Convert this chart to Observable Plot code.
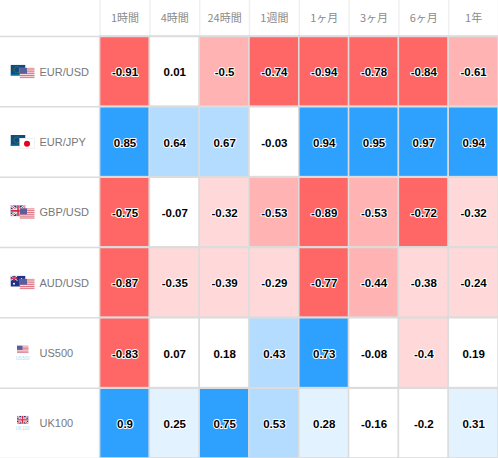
<!DOCTYPE html>
<html>
<head>
<meta charset="utf-8">
<script src="https://cdn.jsdelivr.net/npm/d3@7"></script>
<script src="https://cdn.jsdelivr.net/npm/@observablehq/plot@0.6"></script>
<style>html,body{margin:0;padding:0;background:#fff}svg{display:block}</style>
</head>
<body>
<div id="chart"></div>
<script>
const periods = ["1時間","4時間","24時間","1週間","1ヶ月","3ヶ月","6ヶ月","1年"];
const symbols = ["EUR/USD","EUR/JPY","GBP/USD","AUD/USD","US500","UK100"];
const eurusd = [-0.91,0.01,-0.5,-0.74,-0.94,-0.78,-0.84,-0.61];
const eurjpy = [0.85,0.64,0.67,-0.03,0.94,0.95,0.97,0.94];
const gbpusd = [-0.75,-0.07,-0.32,-0.53,-0.89,-0.53,-0.72,-0.32];
const audusd = [-0.87,-0.35,-0.39,-0.29,-0.77,-0.44,-0.38,-0.24];
const us500 = [-0.83,0.07,0.18,0.43,0.73,-0.08,-0.4,0.19];
const uk100 = [0.9,0.25,0.75,0.53,0.28,-0.16,-0.2,0.31];
const series = [eurusd,eurjpy,gbpusd,audusd,us500,uk100];
const thresholds = [-0.7,-0.4,-0.2,0.2,0.4,0.7];
const palette = ["#ff6666","#ffb3b3","#ffd9d9","#ffffff","#e3f2ff","#b3dcff","#2ea1ff"];
const table = symbols.flatMap((s,i)=>periods.map((p,j)=>({symbol:s,period:p,value:series[i][j]})));

const svgUri = (w,h,body)=>"data:image/svg+xml,"+encodeURIComponent(`<svg xmlns="http://www.w3.org/2000/svg" width="${w}" height="${h}" viewBox="0 0 ${w} ${h}" preserveAspectRatio="none">${body}</svg>`);
const eu = svgUri(15,11,`<rect width="15" height="11" fill="#0f4c81"/><rect y="9.6" width="15" height="1.4" fill="#0b7a9c"/><circle cx="6.5" cy="5" r="3" fill="none" stroke="#7f9a3a" stroke-width=".8" stroke-dasharray="1 1"/>`);
const usStripes = [0,2,4,6,8,10].map(y=>`<rect y="${y*0.85}" width="20" height="0.85" fill="#d96a78"/>`).join("");
const us = svgUri(15,11,`<rect width="15" height="11" fill="#f7e6e8"/><g transform="scale(1,1.08)">${usStripes}</g><rect width="7.5" height="6" fill="#5a5f9c"/>`);
const jp = svgUri(15,11,`<rect width="15" height="11" fill="#fff" stroke="#e4e4e4"/><circle cx="7.5" cy="5.8" r="3" fill="#e8001c"/>`);
const uk = svgUri(15,10,`<rect width="15" height="10" fill="#28357a"/><path d="M0 0L15 10M15 0L0 10" stroke="#fff" stroke-width="2.2"/><path d="M0 0L15 10M15 0L0 10" stroke="#cf2a3e" stroke-width=".8"/><path d="M7.5 0V10M0 5H15" stroke="#fff" stroke-width="3"/><path d="M7.5 0V10M0 5H15" stroke="#cf2a3e" stroke-width="1.6"/>`);
const au = svgUri(15,11,`<rect width="15" height="11" fill="#1d3288"/><path d="M0 0L7 5M7 0L0 5" stroke="#fff" stroke-width="1"/><path d="M3.5 0V5M0 2.5H7" stroke="#e0334a" stroke-width="1.2"/><circle cx="3.5" cy="8" r="1" fill="#fff"/><circle cx="11" cy="3" r=".6" fill="#fff"/><circle cx="12.5" cy="6" r=".6" fill="#fff"/>`);

const backFlags = [["EUR/USD",eu],["EUR/JPY",eu],["GBP/USD",uk],["AUD/USD",au]];
const frontFlags = [["EUR/USD",us],["EUR/JPY",jp],["GBP/USD",us],["AUD/USD",us]];
const indexFlags = [["US500",us],["UK100",uk]];

const xDomain = ["","  ",...periods];
const plot = Plot.plot({
  width:498,height:458,
  marginTop:0,marginRight:0,marginBottom:0,marginLeft:0,
  style:{background:"#fff",fontFamily:"'Liberation Sans',Arial,sans-serif"},
  x:{type:"band",domain:xDomain,range:[0,498],padding:0,round:false,axis:null},
  y:{type:"band",domain:symbols,range:[36,458],padding:0,round:false,axis:null},
  color:{type:"threshold",domain:thresholds,range:palette},
  marks:[
    Plot.ruleX(periods,{x:d=>d,dx:-24.9,stroke:"#f0f0f0",strokeWidth:1.5}),
    Plot.ruleX(periods.slice(-1),{x:d=>d,dx:24.9,stroke:"#f0f0f0",strokeWidth:1.5}),
    Plot.cell(table,{x:"period",y:"symbol",fill:"value",stroke:"#dcdcdc",strokeWidth:1.5}),
    Plot.ruleY(symbols,{y:d=>d,dy:35.2,stroke:"#dcdcdc",strokeWidth:1.5}),
    Plot.ruleY(symbols.slice(0,1),{y:d=>d,dy:-35.2,stroke:"#dcdcdc",strokeWidth:1.5}),
    Plot.text(periods,{x:d=>d,frameAnchor:"top",dy:18,text:d=>d,fontSize:11,fill:"#8a8a8a",lineAnchor:"middle",fontFamily:"'Noto Sans CJK JP','Liberation Sans',sans-serif"}),
    Plot.image(backFlags,{y:d=>d[0],src:d=>d[1],frameAnchor:"left",dx:17.5,dy:-1.5,width:15,height:11,preserveAspectRatio:"none"}),
    Plot.image(frontFlags,{y:d=>d[0],src:d=>d[1],frameAnchor:"left",dx:26.5,dy:1.5,width:15,height:11,preserveAspectRatio:"none"}),
    Plot.image(indexFlags,{y:d=>d[0],src:d=>d[1],frameAnchor:"left",dx:22,dy:-3.5,width:12,height:8,preserveAspectRatio:"none"}),
    Plot.text(indexFlags,{y:d=>d[0],text:d=>d[0],frameAnchor:"left",dx:22,dy:5.5,fontSize:4.5,fill:"#a6e0f5",textAnchor:"middle"}),
    Plot.text(symbols,{y:d=>d,text:d=>d,frameAnchor:"left",dx:39,dy:0.5,fontSize:11,fill:"#777",textAnchor:"start"}),
    Plot.text(table,{x:"period",y:"symbol",text:d=>String(d.value),dy:1,fontSize:11.5,fontWeight:"bold",fill:"#000",stroke:"#fff",strokeWidth:2})
  ]
});
document.getElementById("chart").append(plot);
</script>
</body>
</html>
